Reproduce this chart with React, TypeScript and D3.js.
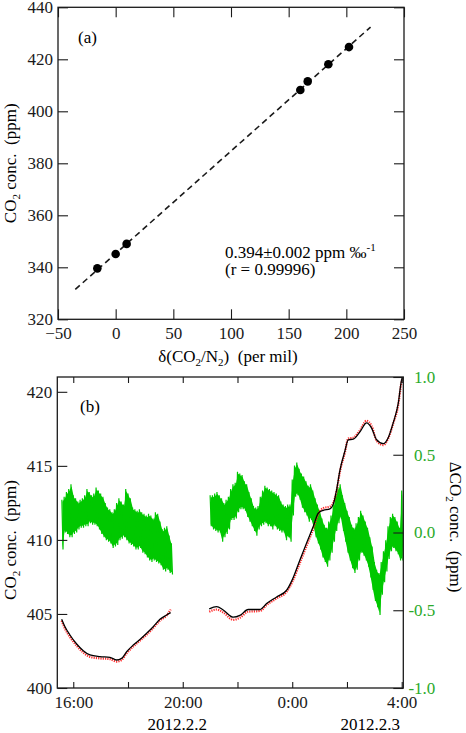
// CO2 calibration (a) and time series (b) figure
import React, { useEffect, useRef } from 'react';
import * as d3 from 'd3';

// (a) calibration points
const deltaVals = [-15.9, 0, 9.5, 160.1, 166.5, 184.4, 202.3];
const co2Vals = [339.6, 345.1, 349.0, 408.2, 411.5, 418.1, 424.7];
const fitDelta = [-35, 221];
const fitCo2 = [331.5, 432.4];
const xTicksA = [-50, 0, 50, 100, 150, 200, 250];
const yTicksA = [320, 340, 360, 380, 400, 420, 440];

// (b) hours since 2012.2.2 0:00
const blackT1 = [15.576, 15.697, 15.879, 16.124, 16.365, 16.61, 16.975, 17.34, 17.585, 17.768, 17.951, 18.192, 18.436, 18.681, 18.922, 19.167, 19.412, 19.558];
const blackV1 = [404.65, 404.14, 403.58, 402.97, 402.52, 402.23, 402.12, 402.07, 401.89, 402.0, 402.45, 402.9, 403.28, 403.7, 404.14, 404.64, 404.93, 405.09];
const redV1 = [404.55, 404.0, 403.45, 402.85, 402.4, 402.1, 402.0, 401.95, 401.78, 401.9, 402.35, 402.8, 403.2, 403.6, 404.05, 404.55, 404.9, 405.3];

const blackT2 = [20.968, 21.238, 21.479, 21.845, 22.089, 22.393, 22.82, 23.065, 23.43, 23.795, 24.0, 24.281, 24.526, 24.767, 24.95, 25.132, 25.377, 25.498, 25.622, 25.742, 25.925, 26.046, 26.228, 26.473, 26.718, 26.9, 27.083, 27.324, 27.507, 27.689, 27.872, 27.996, 28.044];
const blackV2 = [405.34, 405.5, 405.27, 404.78, 404.9, 405.3, 405.3, 405.7, 406.15, 406.6, 407.3, 408.65, 409.8, 410.9, 411.8, 412.0, 412.1, 412.4, 413.4, 414.7, 416.0, 416.76, 416.8, 417.3, 417.9, 417.55, 416.76, 416.5, 416.9, 417.9, 419.2, 420.8, 421.0];
const redV2 = [405.15, 405.3, 405.1, 404.6, 404.75, 405.15, 405.2, 405.6, 406.05, 406.5, 407.15, 408.45, 409.6, 410.75, 411.75, 412.15, 412.25, 412.5, 413.3, 414.6, 415.9, 416.85, 416.9, 417.4, 418.05, 417.7, 416.7, 416.4, 416.85, 417.85, 419.1, 420.7, 421.0];

// delta CO2 noise band, sampled every 5 min (upper / lower excursions)
const greenStart1 = 15 + 35 / 60;
const greenHi1 = [0.21, 0.23, 0.26, 0.28, 0.31, 0.24, 0.22, 0.2, 0.21, 0.22, 0.24, 0.28, 0.26, 0.24, 0.25, 0.29, 0.27, 0.25, 0.23, 0.19, 0.16, 0.15, 0.13, 0.15, 0.19, 0.22, 0.2, 0.18, 0.28, 0.25, 0.22, 0.16, 0.15, 0.14, 0.15, 0.13, 0.12, 0.11, 0.12, 0.11, 0.09, 0.13, 0.12, 0.07, 0.02, 0.03, 0.04, -0.02, -0.07];
const greenLo1 = [-0.11, 0.0, -0.01, -0.03, -0.03, -0.01, 0.0, 0.02, 0.03, 0.03, 0.04, 0.04, 0.06, 0.05, 0.05, 0.04, 0.02, -0.01, -0.03, -0.05, -0.06, -0.07, -0.1, -0.09, -0.08, -0.05, -0.04, -0.03, -0.05, -0.07, -0.08, -0.09, -0.11, -0.11, -0.1, -0.13, -0.14, -0.16, -0.18, -0.19, -0.18, -0.19, -0.2, -0.21, -0.24, -0.25, -0.24, -0.26, -0.27];
const greenStart2 = 21;
const greenHi2 = [0.24, 0.24, 0.25, 0.26, 0.24, 0.22, 0.19, 0.21, 0.23, 0.28, 0.31, 0.32, 0.39, 0.38, 0.37, 0.33, 0.31, 0.26, 0.22, 0.17, 0.16, 0.17, 0.23, 0.27, 0.3, 0.29, 0.28, 0.27, 0.26, 0.25, 0.24, 0.2, 0.18, 0.17, 0.18, 0.18, 0.34, 0.43, 0.45, 0.41, 0.38, 0.36, 0.33, 0.3, 0.31, 0.27, 0.22, 0.18, 0.14, 0.09, 0.05, 0.03, 0.07, 0.11, 0.18, 0.25, 0.29, 0.31, 0.24, 0.19, 0.14, 0.1, 0.05, 0.03, 0.06, 0.1, 0.14, 0.11, 0.07, 0.03, -0.03, -0.09, -0.19, -0.24, -0.26, -0.19, -0.12, -0.05, 0.04, 0.1, 0.12, 0.1, 0.07, 0.03, 0.27];
const greenLo2 = [0.04, 0.02, 0.01, 0.0, 0.0, -0.06, -0.03, -0.01, 0.02, 0.08, 0.08, 0.09, 0.13, 0.15, 0.15, 0.14, 0.1, 0.07, 0.04, 0.01, -0.02, 0.02, 0.04, 0.05, 0.06, 0.04, 0.04, 0.02, 0.04, 0.02, 0.01, 0.0, 0.0, -0.05, -0.03, -0.06, 0.11, 0.23, 0.24, 0.21, 0.16, 0.13, 0.11, 0.07, 0.08, 0.03, -0.03, -0.07, -0.11, -0.16, -0.19, -0.22, -0.18, -0.13, -0.06, 0.01, 0.06, 0.09, 0.01, -0.06, -0.13, -0.18, -0.23, -0.26, -0.24, -0.18, -0.13, -0.15, -0.18, -0.22, -0.29, -0.37, -0.44, -0.48, -0.53, -0.4, -0.32, -0.25, -0.17, -0.12, -0.1, -0.12, -0.14, -0.18, -0.18];
const greenStep = 5 / 60;

const timeTicks = [16, 18, 20, 22, 24, 26, 28];
const yTicksL = [400, 405, 410, 415, 420];
const yTicksR = [-1, -0.5, 0, 0.5, 1];
const dateLabels = ['2012.2.2', '2012.2.3'];
const dateLabelT = [19.8, 26.85];

const FONT = '"Liberation Serif", "Times New Roman", serif';
const GREEN = '#00c800';
const GREEN_TXT = '#2aaa2a';
const INK = '#1a1a1a';

const base = new Date(2012, 1, 2).getTime();
const toDate = (h: number) => new Date(base + h * 3600e3);

type Part = [string, boolean];
const writeParts = (t: d3.Selection<SVGTextElement, unknown, null, undefined>, parts: Part[]) => {
  let shifted = false;
  parts.forEach(([s, sub]) => {
    const sp = t.append('tspan').text(s);
    if (sub && !shifted) { sp.attr('dy', 4).attr('font-size', 11); shifted = true; }
    else if (sub) sp.attr('font-size', 11);
    else if (shifted) { sp.attr('dy', -4); shifted = false; }
  });
};

const App: React.FC = () => {
  const plotRef = useRef<SVGSVGElement>(null);

  useEffect(() => {
    if (!plotRef.current) return;
    const svg = d3.select(plotRef.current);
    svg.selectAll('*').remove();
    svg.attr('width', 466).attr('height', 733)
      .style('font-family', FONT).style('background', '#fff');

    const styleAxis = (g: d3.Selection<SVGGElement, unknown, null, undefined>, txt = INK) => {
      g.select('.domain').remove();
      g.attr('font-family', FONT).attr('font-size', 17);
      g.selectAll('line').attr('stroke', INK).attr('stroke-width', 1.1);
      g.selectAll('text').attr('fill', txt);
    };

    // ---------- panel (a) ----------
    const ax0 = 58, ax1 = 404, ay0 = 7.3, ay1 = 319.3;
    const xa = d3.scaleLinear().domain([-50, 250]).range([ax0, ax1]);
    const ya = d3.scaleLinear().domain([320, 440]).range([ay1, ay0]);

    const fitLine = d3.line<[number, number]>().x(d => xa(d[0])).y(d => ya(d[1]));
    svg.append('path')
      .datum(d3.zip(fitDelta, fitCo2) as [number, number][])
      .attr('d', fitLine)
      .attr('fill', 'none')
      .attr('stroke', INK)
      .attr('stroke-width', 1.6)
      .attr('stroke-dasharray', '6,4');

    svg.append('g').selectAll('circle')
      .data(d3.zip(deltaVals, co2Vals))
      .join('circle')
      .attr('cx', d => xa(d[0]))
      .attr('cy', d => ya(d[1]))
      .attr('r', 4.3)
      .attr('fill', '#000');

    svg.append('g').attr('transform', `translate(0,${ay1})`)
      .call(d3.axisBottom(xa).tickValues(xTicksA).tickSize(-10).tickPadding(8).tickFormat(d3.format('d')))
      .call(styleAxis);
    svg.append('g').attr('transform', `translate(0,${ay0})`)
      .call(d3.axisTop(xa).tickValues(xTicksA).tickSize(-10).tickFormat(() => ''))
      .call(styleAxis);
    svg.append('g').attr('transform', `translate(${ax0},0)`)
      .call(d3.axisLeft(ya).tickValues(yTicksA).tickSize(-10).tickPadding(5))
      .call(styleAxis);
    svg.append('g').attr('transform', `translate(${ax1},0)`)
      .call(d3.axisRight(ya).tickValues(yTicksA).tickSize(-10).tickFormat(() => ''))
      .call(styleAxis);

    svg.append('rect')
      .attr('x', ax0).attr('y', ay0).attr('width', ax1 - ax0).attr('height', ay1 - ay0)
      .attr('fill', 'none').attr('stroke', INK).attr('stroke-width', 1.3);

    svg.append('text').attr('x', 78).attr('y', 43).attr('font-size', 17).text('(a)');

    const ann = svg.append('text').attr('x', 225).attr('y', 258).attr('font-size', 17).style('white-space', 'pre');
    ann.append('tspan').text('0.394±0.002 ppm ‰');
    ann.append('tspan').attr('font-size', 11).attr('dy', -7).text('-1');
    svg.append('text').attr('x', 225).attr('y', 275).attr('font-size', 17).style('white-space', 'pre')
      .text('(r = 0.99996)');

    const yTitleA = svg.append('text')
      .attr('transform', `translate(16,${(ay0 + ay1) / 2}) rotate(-90)`)
      .attr('text-anchor', 'middle').attr('font-size', 17).style('white-space', 'pre');
    writeParts(yTitleA, [['CO', false], ['2', true], [' conc.  (ppm)', false]]);

    const xTitleA = svg.append('text')
      .attr('x', 228).attr('y', 362)
      .attr('text-anchor', 'middle').attr('font-size', 17).style('white-space', 'pre');
    writeParts(xTitleA, [['δ(CO', false], ['2', true], ['/N', false], ['2', true], [')  (per mil)', false]]);

    // ---------- panel (b) ----------
    const bx0 = 57.3, bx1 = 403.3, by0 = 377, by1 = 688;
    const xb = d3.scaleTime().domain([toDate(15 + 25 / 60), toDate(28.058)]).range([bx0, bx1]);
    const yl = d3.scaleLinear().domain([400, 421]).range([by1, by0]);
    const yr = d3.scaleLinear().domain([-1, 1]).range([by1, by0]);

    svg.append('clipPath').attr('id', 'clipB')
      .append('rect').attr('x', bx0).attr('y', by0).attr('width', bx1 - bx0).attr('height', by1 - by0);
    const plotB = svg.append('g').attr('clip-path', 'url(#clipB)');

    // noisy delta CO2 trace: solid core plus zigzag between upper and lower excursions
    const bands: [number, number[], number[]][] = [
      [greenStart1, greenHi1, greenLo1],
      [greenStart2, greenHi2, greenLo2],
    ];
    const zigLine = d3.line<[Date, number]>().x(d => xb(d[0])).y(d => yr(d[1]));
    bands.forEach(([start, hi, lo]) => {
      const core = d3.area<number>()
        .x((_, i) => xb(toDate(start + (i + 0.25) * greenStep)))
        .y0((_, i) => yr(lo[i]) - 2)
        .y1(d => yr(d) + 2);
      plotB.append('path').datum(hi).attr('d', core).attr('fill', GREEN);

      const zig: [Date, number][] = [];
      hi.forEach((h, i) => {
        zig.push([toDate(start + i * greenStep), h]);
        zig.push([toDate(start + (i + 0.5) * greenStep), lo[i]]);
      });
      plotB.append('path')
        .datum(zig)
        .attr('d', zigLine)
        .attr('fill', 'none')
        .attr('stroke', GREEN)
        .attr('stroke-width', 1.2);
    });

    const co2Line = d3.line<[number, number]>().x(d => xb(toDate(d[0]))).y(d => yl(d[1])).curve(d3.curveMonotoneX);
    const series: [number[], number[], number[]][] = [
      [blackT1, blackV1, redV1],
      [blackT2, blackV2, redV2],
    ];
    series.forEach(([t, b, r]) => {
      plotB.append('path')
        .datum(d3.zip(t, r) as [number, number][])
        .attr('d', co2Line)
        .attr('fill', 'none')
        .attr('stroke', '#ff2a2a')
        .attr('stroke-width', 2.2)
        .attr('stroke-dasharray', '1.2,1.1');
      plotB.append('path')
        .datum(d3.zip(t, b) as [number, number][])
        .attr('d', co2Line)
        .attr('fill', 'none')
        .attr('stroke', '#000')
        .attr('stroke-width', 1.3);
    });

    const fmt = d3.timeFormat('%-H:%M');
    svg.append('g').attr('transform', `translate(0,${by1})`)
      .call(d3.axisBottom(xb).tickValues(timeTicks.map(toDate)).tickSize(-6).tickPadding(8)
        .tickFormat(d => ((d as Date).getHours() % 4 === 0 ? fmt(d as Date) : '')))
      .call(styleAxis);
    svg.append('g').attr('transform', `translate(0,${by0})`)
      .call(d3.axisTop(xb).tickValues(timeTicks.map(toDate)).tickSize(-6).tickFormat(() => ''))
      .call(styleAxis);
    svg.append('g').attr('transform', `translate(${bx0},0)`)
      .call(d3.axisLeft(yl).tickValues(yTicksL).tickSize(-10).tickPadding(5))
      .call(styleAxis);
    const right = svg.append('g').attr('transform', `translate(${bx1},0)`)
      .call(d3.axisRight(yr).tickValues(yTicksR).tickSize(-10).tickFormat(d => (d as number).toFixed(1)))
      .call(g => styleAxis(g, GREEN_TXT));
    right.selectAll('text').attr('x', 32).attr('text-anchor', 'end');

    svg.append('rect')
      .attr('x', bx0).attr('y', by0).attr('width', bx1 - bx0).attr('height', by1 - by0)
      .attr('fill', 'none').attr('stroke', INK).attr('stroke-width', 1.3);

    svg.append('text').attr('x', 80).attr('y', 412).attr('font-size', 17).text('(b)');

    svg.append('g').selectAll('text')
      .data(dateLabels)
      .join('text')
      .attr('x', (_, i) => xb(toDate(dateLabelT[i])))
      .attr('y', 730)
      .attr('text-anchor', 'middle')
      .attr('font-size', 17)
      .text(d => d);

    const yTitleL = svg.append('text')
      .attr('transform', 'translate(16,540) rotate(-90)')
      .attr('text-anchor', 'middle').attr('font-size', 17).style('white-space', 'pre');
    writeParts(yTitleL, [['CO', false], ['2', true], [' conc.  (ppm)', false]]);

    const yTitleR = svg.append('text')
      .attr('transform', 'translate(450,527) rotate(90)')
      .attr('text-anchor', 'middle').attr('font-size', 17).style('white-space', 'pre');
    writeParts(yTitleR, [['ΔCO', false], ['2', true], [' conc.  (ppm)', false]]);
  }, []);

  return (
    <div style={{ position: 'absolute', left: 0, top: 0 }}>
      <svg ref={plotRef}></svg>
    </div>
  );
};

export default App;
